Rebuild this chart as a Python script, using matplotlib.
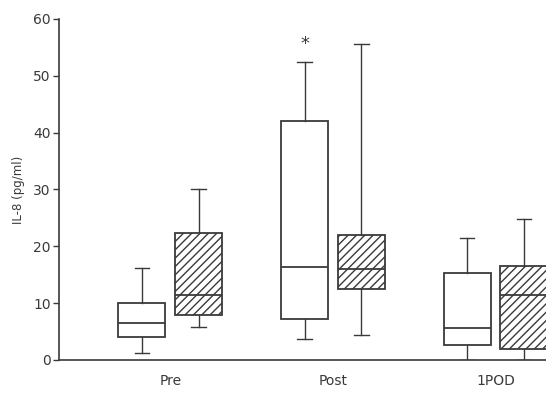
import matplotlib
matplotlib.use("Agg")
import matplotlib.pyplot as plt

# box statistics (IL-8, pg/ml)
groups = ["Pre", "Post", "1POD"]
open_lo = [1.2, 3.7, 0.0]
open_q1 = [4.0, 7.2, 2.6]
open_med = [6.5, 16.4, 5.7]
open_q3 = [10.0, 42.1, 15.3]
open_hi = [16.2, 52.5, 21.4]

hatch_lo = [5.8, 4.4, 0.0]
hatch_q1 = [7.9, 12.5, 2.0]
hatch_med = [11.4, 16.0, 11.4]
hatch_q3 = [22.4, 22.0, 16.5]
hatch_hi = [30.1, 55.6, 24.8]

star_group = "Post"
star_y = 54.0

ink = "#3a3a3a"

fig = plt.figure(figsize=(5.46, 3.93), dpi=100)
ax = fig.add_axes([0.108, 0.084, 0.892, 0.868])


def stats(lo, q1, med, q3, hi):
    return [dict(whislo=a, q1=b, med=c, q3=d, whishi=e, fliers=[])
            for a, b, c, d, e in zip(lo, q1, med, q3, hi)]


pos = [i + 1 for i in range(len(groups))]
off = 0.175
props = dict(widths=0.29, capwidths=0.09, showfliers=False, patch_artist=True,
             boxprops=dict(edgecolor=ink, linewidth=1.3),
             medianprops=dict(color=ink, linewidth=1.3),
             whiskerprops=dict(color=ink, linewidth=1.0),
             capprops=dict(color=ink, linewidth=1.0))

b1 = ax.bxp(stats(open_lo, open_q1, open_med, open_q3, open_hi),
            positions=[p - off for p in pos], **props)
for box in b1["boxes"]:
    box.set_facecolor("white")

plt.rcParams["hatch.color"] = "#4a4a4a"
plt.rcParams["hatch.linewidth"] = 1.0
b2 = ax.bxp(stats(hatch_lo, hatch_q1, hatch_med, hatch_q3, hatch_hi),
            positions=[p + off for p in pos], **props)
for box in b2["boxes"]:
    box.set_facecolor("white")
    box.set_hatch("////")

i = groups.index(star_group)
ax.text(pos[i] - off, star_y, "*", ha="center", va="bottom",
        fontsize=13, color=ink)

ax.set_xlim(0.315, 3.31)
ax.set_ylim(0, 60)
ax.set_yticks(range(0, 61, 10))
ax.set_xticks(pos)
ax.set_xticklabels(groups, fontsize=10, color=ink)
ax.tick_params(axis="x", length=0, pad=10)
ax.tick_params(axis="y", length=4, width=1, color=ink, labelsize=10,
               labelcolor=ink, pad=2)
ax.set_ylabel("IL-8 (pg/ml)", fontsize=8.5, color=ink, labelpad=6)
ax.spines["top"].set_visible(False)
ax.spines["right"].set_visible(False)
for s in ("left", "bottom"):
    ax.spines[s].set_color(ink)
    ax.spines[s].set_linewidth(1.2)

fig.savefig("out.png", dpi=100)
